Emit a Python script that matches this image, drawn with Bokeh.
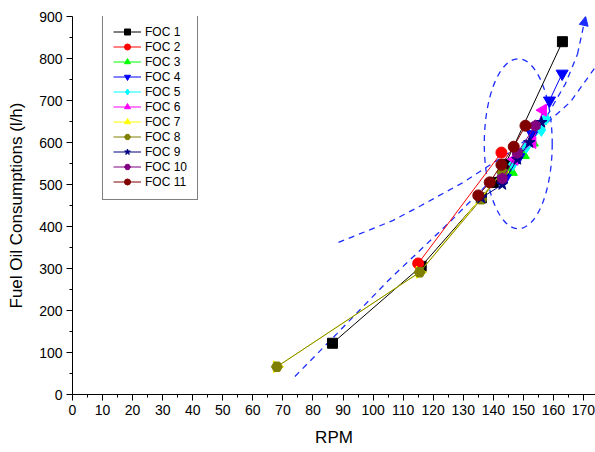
import math
from bokeh.plotting import figure
from bokeh.models import Range1d, Legend, LegendItem, Arrow, NormalHead, FixedTicker
from bokeh.embed import file_html
from bokeh.resources import INLINE

# ---- data ----
series_names = ["FOC 1", "FOC 2", "FOC 3", "FOC 4", "FOC 5", "FOC 6",
                "FOC 7", "FOC 8", "FOC 9", "FOC 10", "FOC 11"]

foc1_x = [86.5, 116, 136, 140, 144, 163]
foc1_y = [122, 305, 468, 505, 548, 840]
foc2_x = [115, 142.7]
foc2_y = [312, 576]
foc3_x = [146, 150, 153]
foc3_y = [530, 570, 600]
foc4_x = [144, 148.5, 153, 158.7, 162.9]
foc4_y = [515, 565, 620, 700, 764]
foc5_x = [146.5, 151, 156, 157.5]
foc5_y = [548, 590, 630, 657]
foc6_x = [147, 153, 156.5]
foc6_y = [560, 600, 677]
foc7_x = [68, 115.5, 143]
foc7_y = [66, 291, 530]
foc8_x = [68, 115.5, 136, 143]
foc8_y = [66, 291, 465, 530]
foc9_x = [136, 143, 148, 152, 156]
foc9_y = [468, 500, 560, 600, 648]
foc10_x = [143, 148, 154]
foc10_y = [514, 575, 640]
foc11_x = [135, 138.8, 142.7, 146.8, 150.7]
foc11_y = [474, 505, 547, 590, 640]

# dashed annotation curves
band_low_x = [88.5, 106.5, 116, 130, 145, 155, 165.7, 174]
band_low_y = [362, 414, 450, 505, 575, 628, 697, 780]
band_up_x = [74, 88, 105, 126, 140, 150, 158, 164, 168, 170.7]
band_up_y = [43, 145, 271, 414, 515, 590, 665, 740, 810, 900]
ellipse_x = [148.3]
ellipse_y = [597]
ellipse_w = [22.6]
ellipse_h = [405]

x_ticks = list(range(0, 171, 10))
x_minor = list(range(5, 175, 10))
y_ticks = list(range(0, 901, 100))
y_minor = list(range(50, 900, 100))

FONT = "Liberation Sans"

p = figure(width=595, height=452, frame_width=523, frame_height=378,
           x_range=Range1d(0, 174), y_range=Range1d(0, 900),
           output_backend="svg", toolbar_location=None,
           min_border_left=72, min_border_right=0, min_border_top=16,
           min_border_bottom=58)
p.outline_line_color = None
p.xgrid.visible = False
p.ygrid.visible = False
p.background_fill_color = "white"
p.border_fill_color = "white"

p.xaxis.ticker = FixedTicker(ticks=x_ticks, minor_ticks=x_minor)
p.yaxis.ticker = FixedTicker(ticks=y_ticks, minor_ticks=y_minor)
for ax in (p.xaxis, p.yaxis):
    ax.major_tick_in = 0
    ax.major_tick_out = 6
    ax.minor_tick_in = 0
    ax.minor_tick_out = 3
    ax.axis_line_color = "black"
    ax.major_tick_line_color = "black"
    ax.minor_tick_line_color = "black"
    ax.major_label_text_font = FONT
    ax.major_label_text_font_size = "14px"
    ax.major_label_text_color = "black"
    ax.axis_label_text_font = FONT
    ax.axis_label_text_font_style = "normal"
    ax.axis_label_text_font_size = "17px"
    ax.axis_label_text_color = "black"
    ax.major_label_standoff = 4
p.xaxis.axis_label = "RPM"
p.yaxis.axis_label = "Fuel Oil Consumptions (l/h)"
p.xaxis.axis_label_standoff = 10
p.yaxis.axis_label_standoff = 10

# annotations
dash_col = "#1a2cff"
p.line(band_low_x, band_low_y, line_color=dash_col, line_dash="6 5", line_width=1.3)
p.line(band_up_x[:-1], band_up_y[:-1], line_color=dash_col, line_dash="6 5", line_width=1.3)
p.add_layout(Arrow(end=NormalHead(size=9, line_color=dash_col, fill_color=dash_col),
                   x_start=band_up_x[-2], y_start=band_up_y[-2],
                   x_end=band_up_x[-1], y_end=band_up_y[-1],
                   line_color=dash_col, line_dash="6 5", line_width=1.3))
p.ellipse(x=ellipse_x, y=ellipse_y, width=ellipse_w, height=ellipse_h,
          fill_alpha=0, line_color=dash_col, line_dash="6 5", line_width=1.3)

styles = [
    (foc1_x, foc1_y, "black", "square", 0, 10),
    (foc2_x, foc2_y, "#ff0000", "circle", 0, 11),
    (foc3_x, foc3_y, "#00ff00", "triangle", 0, 12),
    (foc4_x, foc4_y, "#0000ff", "inverted_triangle", 0, 12),
    (foc5_x, foc5_y, "#00ffff", "diamond", 0, 13),
    (foc6_x, foc6_y, "#ff00ff", "triangle", math.pi / 2, 12),
    (foc7_x, foc7_y, "#ffff00", "triangle", -math.pi / 2, 12),
    (foc8_x, foc8_y, "#808000", "hex", 0, 11),
    (foc9_x, foc9_y, "#000080", "star", 0, 12),
    (foc10_x, foc10_y, "#800080", "hex", math.pi / 6, 11),
    (foc11_x, foc11_y, "#800000", "circle", 0, 11),
]

items = []
for name, (xs, ys, col, mk, ang, sz) in zip(series_names, styles):
    ln = p.line(xs, ys, line_color=col, line_width=1)
    sc = p.scatter(xs, ys, marker=mk, angle=ang, size=sz, fill_color=col,
                   line_color=col, line_width=1)
    items.append(LegendItem(label=name, renderers=[ln, sc]))

legend = Legend(items=items, location=(30, 194), orientation="vertical")
legend.border_line_color = "black"
legend.border_line_width = 1
legend.background_fill_color = "white"
legend.background_fill_alpha = 1
legend.padding = 10
legend.spacing = 0
legend.margin = 0
legend.label_height = 15
legend.glyph_height = 15
legend.glyph_width = 28
legend.label_standoff = 4
legend.label_text_font = FONT
legend.label_text_font_size = "12px"
legend.label_text_color = "black"
p.add_layout(legend, "center")

open("out.html", "w").write(file_html(p, INLINE))
